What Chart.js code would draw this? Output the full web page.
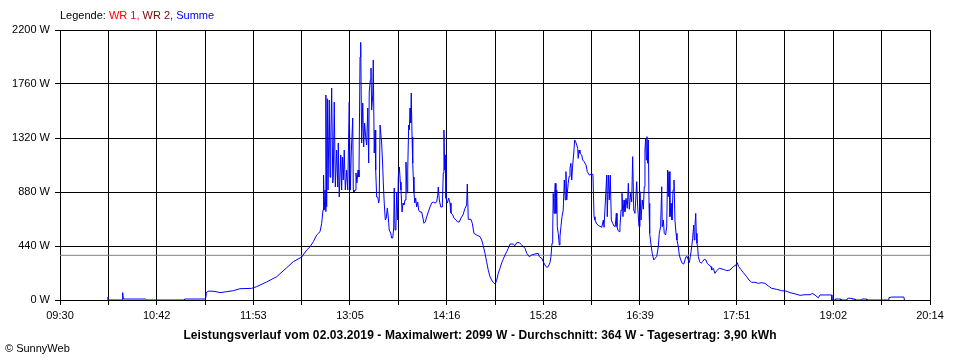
<!DOCTYPE html>
<html>
<head>
<meta charset="utf-8">
<script src="https://cdn.jsdelivr.net/npm/chart.js@4.4.1/dist/chart.umd.min.js"></script>
<style>
  html, body { margin: 0; padding: 0; background: #fff; }
  #wrap { position: relative; width: 960px; height: 360px; font-family: "Liberation Sans", Arial, sans-serif; font-size: 11px; }
  #wrap canvas { position: absolute; left: 0; top: 0; }
  .txt { position: absolute; line-height: 13px; white-space: nowrap; }
  #legende { left: 60px; top: 9px; }
  #titel { left: 0; width: 960px; top: 329px; text-align: center; font-weight: bold; font-size: 12px; letter-spacing: 0.1px; }
  #copy { left: 5px; top: 342px; }
</style>
</head>
<body>
<div id="wrap">
  <canvas id="chart" width="960" height="360"></canvas>
  <div class="txt" id="legende">Legende: <span style="color:#ff0000">WR 1,</span> <span style="color:#800000">WR 2,</span> <span style="color:#0000ff">Summe</span></div>
  <div class="txt" id="titel">Leistungsverlauf vom 02.03.2019 - Maximalwert: 2099 W - Durchschnitt: 364 W - Tagesertrag: 3,90 kWh</div>
  <div class="txt" id="copy">&copy; SunnyWeb</div>
</div>
<script>
// Zeitpunkte in Minuten seit 0:00 und Leistung (Summe) in W
var zeit = [
  605.2, 605.5, 606.0, 615.9, 616.4, 616.9, 633.4, 633.9, 661.8, 662.2,
  677.3, 677.9, 678.4, 680.3, 684.7, 688.4, 693.4, 698.3, 703.2, 711.9,
  715.6, 723.0, 730.4, 737.8, 742.7, 748.9, 752.6, 755.1, 757.5, 760.0,
  762.5, 763.7, 764.7, 765.1, 765.6, 766.2, 766.7, 766.9, 767.4, 767.9,
  768.4, 769.3, 769.9, 770.4, 771.1, 771.9, 772.3, 773.0, 773.8, 774.8,
  775.6, 776.0, 776.7, 777.8, 778.5, 779.0, 779.7, 780.4, 781.2, 782.2,
  783.0, 783.7, 784.1, 784.9, 785.6, 786.7, 787.1, 787.6, 788.4, 789.1,
  789.8, 790.6, 791.3, 792.1, 792.6, 793.3, 794.1, 794.8, 795.5, 796.3,
  797.0, 797.8, 798.5, 798.9, 799.7, 800.2, 800.7, 801.5, 801.9, 802.6,
  803.2, 803.7, 804.4, 805.2, 805.9, 806.3, 806.9, 808.1, 808.9, 809.3,
  810.0, 810.8, 811.5, 812.3, 813.0, 813.7, 814.8, 815.5, 816.3, 817.0,
  817.4, 818.0, 818.7, 819.2, 820.0, 820.4, 821.2, 821.9, 822.4, 823.2,
  823.9, 824.6, 825.4, 826.1, 826.9, 827.4, 828.1, 828.6, 829.1, 829.6,
  830.0, 830.6, 831.1, 831.5, 832.0, 832.6, 833.3, 834.0, 834.8, 835.5,
  836.5, 837.7, 838.5, 839.4, 840.4, 841.4, 842.6, 843.9, 845.1, 846.3,
  847.6, 848.8, 849.6, 850.0, 850.8, 851.8, 853.0, 853.7, 854.2, 854.8,
  855.2, 855.7, 856.7, 857.7, 858.7, 859.4, 860.7, 861.6, 863.1, 864.4,
  865.6, 866.8, 868.3, 869.8, 871.0, 871.5, 872.2, 874.2, 875.2, 876.4,
  878.4, 880.9, 882.1, 883.3, 884.6, 885.8, 887.0, 888.3, 889.5, 890.7,
  892.0, 893.2, 894.4, 895.7, 897.0, 898.1, 899.4, 900.7, 901.8, 903.1,
  905.5, 906.8, 908.1, 910.0, 911.8, 914.2, 915.5, 917.4, 919.2, 921.6,
  924.0, 924.8, 926.6, 927.7, 929.0, 930.3, 931.4, 932.7, 933.4, 934.2,
  934.7, 935.1, 935.7, 936.2, 936.6, 937.1, 937.7, 938.1, 938.8, 939.6,
  940.1, 940.8, 941.6, 942.5, 943.3, 944.0, 944.5, 945.1, 945.5, 946.2,
  946.8, 947.5, 948.2, 948.8, 949.5, 950.2, 951.0, 951.7, 952.5, 953.2,
  953.6, 954.2, 954.9, 956.2, 956.9, 957.9, 959.4, 960.3, 961.8, 963.3,
  964.5, 964.8, 965.3, 966.0, 967.3, 969.2, 971.0, 972.2, 972.7, 973.4,
  974.7, 975.1, 975.9, 976.6, 977.3, 978.1, 979.1, 980.1, 981.0, 981.8,
  982.3, 983.0, 983.8, 984.5, 985.3, 986.0, 986.7, 987.5, 988.2, 989.0,
  989.9, 990.7, 991.4, 992.4, 993.2, 993.9, 994.7, 995.6, 996.9, 997.6,
  998.6, 999.3, 1000.1, 1001.0, 1001.8, 1002.5, 1003.0, 1003.5, 1004.0, 1004.5,
  1005.0, 1005.5, 1006.0, 1006.5, 1007.5, 1008.4, 1009.5, 1010.4, 1011.7, 1012.9,
  1013.6, 1014.6, 1015.4, 1015.8, 1016.6, 1017.3, 1018.3, 1019.1, 1019.8, 1020.3,
  1020.8, 1021.5, 1022.3, 1023.0, 1023.8, 1024.5, 1025.2, 1026.0, 1026.7, 1027.7,
  1028.4, 1029.5, 1030.6, 1031.7, 1032.6, 1033.4, 1034.3, 1035.1, 1035.8, 1036.6,
  1037.6, 1038.3, 1039.1, 1039.5, 1040.0, 1040.6, 1041.0, 1041.5, 1042.0, 1042.5,
  1043.5, 1044.5, 1045.7, 1046.9, 1048.2, 1049.1, 1050.4, 1051.9, 1052.4, 1053.6,
  1054.8, 1056.1, 1058.0, 1061.0, 1063.5, 1065.9, 1068.4, 1070.4, 1071.3, 1072.4,
  1073.9, 1075.8, 1078.3, 1080.0, 1082.0, 1084.4, 1086.9, 1089.4, 1091.8, 1094.3,
  1096.8, 1100.5, 1104.2, 1107.4, 1110.4, 1114.1, 1117.8, 1121.5, 1125.2, 1126.9,
  1128.9, 1131.3, 1132.6, 1136.3, 1141.2, 1141.4, 1143.7, 1143.9, 1147.9, 1148.1,
  1152.3, 1152.5, 1153.5, 1156.0, 1156.2, 1158.5, 1158.7, 1163.4, 1163.6, 1167.1,
  1167.3, 1183.4, 1183.6, 1185.6, 1194.7, 1195.0
];
var summe = [
  0, 25, 0, 0, 60, 8, 8, 0, 0, 8,
  8, 16, 63, 73, 70, 60, 68, 76, 92, 95,
  109, 147, 190, 263, 312, 350, 407, 434, 475, 530,
  557, 625, 733, 1018, 733, 896, 720, 1670, 760, 1640,
  896, 1630, 1000, 1279, 1727, 953, 1002, 1613, 921, 1222,
  921, 1279, 839, 1182, 896, 1165, 978, 1222, 896, 1059,
  896, 1361, 1613, 896, 1198, 1483, 896, 880, 896, 1035,
  953, 1059, 1002, 1980, 2099, 1279, 1605, 1247, 1442, 1328,
  1263, 1564, 1116, 1695, 1793, 1890, 1548, 1670, 1956, 1198,
  1385, 1059, 839, 839, 790, 815, 1426, 1279, 1084, 961,
  790, 652, 668, 750, 676, 570, 546, 505, 505, 587,
  913, 570, 595, 880, 652, 1002, 1084, 961, 896, 717,
  790, 774, 815, 1124, 872, 1059, 1426, 1385, 1564, 1442,
  1687, 1328, 1116, 1002, 880, 790, 831, 758, 798, 733,
  717, 717, 676, 625, 636, 676, 717, 758, 790, 798,
  790, 798, 855, 921, 815, 758, 758, 1035, 1385, 1059,
  1182, 831, 790, 831, 790, 709, 693, 668, 652, 636,
  636, 668, 693, 747, 774, 945, 657, 657, 625, 543,
  530, 516, 489, 443, 380, 312, 244, 190, 163, 144,
  130, 157, 217, 258, 304, 332, 367, 394, 421, 456,
  456, 443, 467, 467, 448, 421, 380, 353, 367, 375,
  380, 353, 340, 312, 285, 266, 272, 304, 353, 462,
  530, 869, 706, 869, 951, 706, 896, 597, 543, 448,
  516, 597, 679, 733, 978, 815, 1046, 815, 869, 951,
  1005, 1073, 1114, 978, 1100, 1182, 1304, 1290, 1263, 1236,
  1154, 1222, 1195, 1182, 1141, 1127, 1100, 1046, 1018, 1024,
  1024, 896, 679, 652, 619, 603, 592, 652, 592, 592,
  1018, 679, 1018, 815, 1018, 652, 625, 603, 597, 706,
  597, 570, 557, 597, 733, 869, 679, 815, 720, 828,
  747, 951, 739, 869, 800, 1168, 733, 706, 964, 760,
  597, 883, 652, 815, 740, 923, 1222, 1317, 1141, 1331,
  1114, 1304, 788, 543, 448, 380, 326, 340, 353, 434,
  543, 597, 923, 597, 652, 543, 530, 597, 1059, 842,
  1046, 679, 788, 652, 896, 978, 652, 543, 489, 434,
  367, 326, 299, 293, 326, 353, 353, 326, 304, 353,
  434, 502, 611, 489, 597, 706, 543, 462, 434, 353,
  312, 299, 312, 332, 326, 299, 285, 272, 244, 258,
  217, 239, 258, 250, 239, 244, 272, 285, 304, 272,
  250, 223, 190, 163, 144, 144, 136, 141, 136, 114,
  95, 87, 76, 73, 60, 50, 38, 43, 43, 54,
  40, 18, 41, 41, 41, 0, 0, 8, 8, 0,
  0, 8, 14, 14, 8, 8, 0, 0, 8, 8,
  0, 0, 19, 24, 24, 0
];
var durchschnitt = 364;

// Achsen
var zeitStart = 570, zeitEnde = 1214;   // 09:30 bis 20:14
var zeitLabels = ['09:30', '10:42', '11:53', '13:05', '14:16', '15:28', '16:39', '17:51', '19:02', '20:14'];
var wattLabels = ['0 W', '440 W', '880 W', '1320 W', '1760 W', '2200 W'];

var punkte = zeit.map(function (t, i) { return { x: t, y: summe[i] }; });

Chart.defaults.font.family = '"Liberation Sans", Arial, sans-serif';
Chart.defaults.font.size = 11;
Chart.defaults.color = '#000';

new Chart(document.getElementById('chart'), {
  type: 'line',
  data: {
    datasets: [
      {
        label: 'Summe',
        data: punkte,
        borderColor: '#0000ff',
        borderWidth: 1,
        pointRadius: 0,
        tension: 0,
        fill: false
      },
      {
        label: 'Durchschnitt',
        data: [{ x: zeitStart, y: durchschnitt }, { x: zeitEnde, y: durchschnitt }],
        borderColor: '#808080',
        borderWidth: 1,
        pointRadius: 0,
        fill: false
      }
    ]
  },
  options: {
    responsive: false,
    animation: false,
    layout: { padding: { top: 30, right: 30, left: 0, bottom: 0 } },
    plugins: { legend: { display: false }, tooltip: { enabled: false }, title: { display: false } },
    scales: {
      x: {
        type: 'linear',
        min: zeitStart,
        max: zeitEnde,
        z: 1,
        afterBuildTicks: function (scale) {
          var t = [];
          for (var i = 0; i <= 18; i++) t.push({ value: zeitStart + i * (zeitEnde - zeitStart) / 18 });
          scale.ticks = t;
        },
        afterFit: function (scale) { scale.height = 60; },
        ticks: {
          autoSkip: false,
          maxRotation: 0,
          padding: 4,
          callback: function (v, i) { return i % 2 === 0 ? zeitLabels[i / 2] : ''; }
        },
        grid: { color: '#000', lineWidth: 1, tickLength: 5 },
        border: { color: '#000' }
      },
      y: {
        min: 0,
        max: 2200,
        z: 1,
        afterFit: function (scale) { scale.width = 60; },
        ticks: {
          stepSize: 440,
          padding: 5,
          callback: function (v, i) { return wattLabels[i]; }
        },
        grid: { color: '#000', lineWidth: 1, tickLength: 5 },
        border: { color: '#000' }
      }
    }
  }
});
</script>
</body>
</html>
